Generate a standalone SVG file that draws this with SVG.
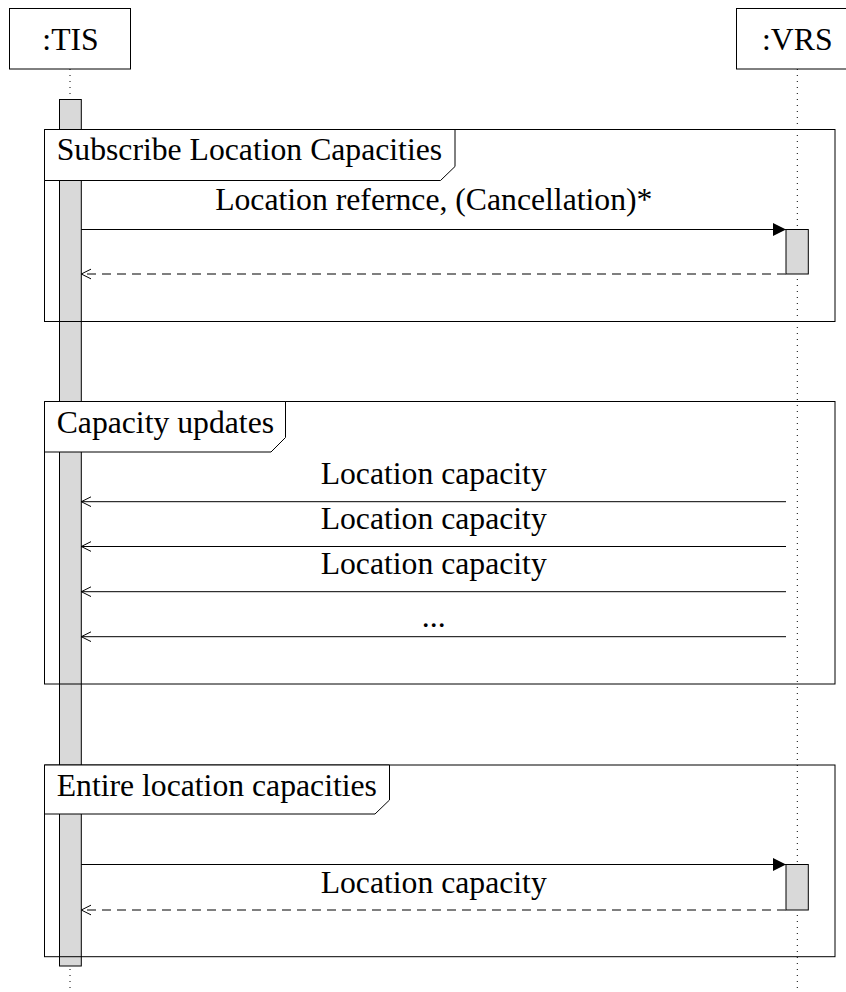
<svg xmlns="http://www.w3.org/2000/svg" width="846" height="992" viewBox="0 0 846 992">
<style>
.t{font-family:'Liberation Serif',serif;font-size:31.7px;fill:#000}
.box{fill:#fff;stroke:#000;stroke-width:1}
.life{stroke:#000;stroke-width:1;stroke-dasharray:1 5;fill:none}
.act{fill:#d9d9d9;stroke:#000;stroke-width:1}
.frame{fill:none;stroke:#000;stroke-width:1}
.flabel{fill:#fff;stroke:#000;stroke-width:1}
.msg{stroke:#000;stroke-width:1;fill:none}
.ret{stroke:#555;stroke-width:1.4;stroke-dasharray:9 6;fill:none}
</style>
<defs>
<marker id="filled" markerWidth="14" markerHeight="14" refX="13" refY="7" orient="auto" markerUnits="userSpaceOnUse">
<path d="M0,0.5 L13,7 L0,13.5 Z" fill="#000"/>
</marker>
<marker id="open" markerWidth="12" markerHeight="12" refX="10" refY="6" orient="auto" markerUnits="userSpaceOnUse">
<path d="M0,1 L10,6 L0,11" fill="none" stroke="#000" stroke-width="1"/>
</marker>
</defs>
<g id="lifelines">
<line class="life" x1="70" y1="69" x2="70" y2="992"/>
<line class="life" x1="797.3" y1="69" x2="797.3" y2="992"/>
</g>
<g id="TIS">
<rect class="box" x="9.5" y="8.5" width="121" height="60.5"/>
<text class="t" x="70.5" y="50" text-anchor="middle">:TIS</text>
</g>
<g id="VRS">
<rect class="box" x="736.5" y="8.5" width="121" height="60.5"/>
<text class="t" x="797.3" y="50" text-anchor="middle">:VRS</text>
</g>
<g id="TIS-activation">
<rect class="act" x="59.5" y="99.5" width="21.8" height="866.5"/>
</g>
<g id="frame-subscribe">
<rect class="frame" x="44.5" y="129.5" width="790.5" height="192"/>
<path class="flabel" d="M44.5,129.5 H455 V166.5 L440.5,180.5 H44.5 Z"/>
<text class="t" x="56.7" y="160">Subscribe Location Capacities</text>
</g>
<g id="frame-updates">
<rect class="frame" x="44.5" y="401.5" width="790.5" height="282.5"/>
<path class="flabel" d="M44.5,401.5 H285.5 V437.5 L271,452 H44.5 Z"/>
<text class="t" x="56.7" y="433">Capacity updates</text>
</g>
<g id="frame-entire">
<rect class="frame" x="44.5" y="765" width="790.5" height="191.7"/>
<path class="flabel" d="M44.5,765 H389.5 V800 L375,814 H44.5 Z"/>
<text class="t" x="56.7" y="796">Entire location capacities</text>
</g>
<g id="VRS-activations">
<rect class="act" x="786" y="229.5" width="22.3" height="44.5"/>
<rect class="act" x="786" y="864.5" width="22.3" height="45.5"/>
</g>
<g id="connectors">
<line class="msg" x1="81.3" y1="229.5" x2="786" y2="229.5" marker-end="url(#filled)"/>
<text class="t" x="433.8" y="210" text-anchor="middle">Location refernce, (Cancellation)*</text>
<line class="ret" x1="786" y1="274" x2="81.3" y2="274" marker-end="url(#open)"/>
<line class="msg" x1="786" y1="501.7" x2="81.3" y2="501.7" marker-end="url(#open)"/>
<text class="t" x="433.7" y="484" text-anchor="middle">Location capacity</text>
<line class="msg" x1="786" y1="546.5" x2="81.3" y2="546.5" marker-end="url(#open)"/>
<text class="t" x="433.7" y="529" text-anchor="middle">Location capacity</text>
<line class="msg" x1="786" y1="591.7" x2="81.3" y2="591.7" marker-end="url(#open)"/>
<text class="t" x="433.7" y="574" text-anchor="middle">Location capacity</text>
<line class="msg" x1="786" y1="636.7" x2="81.3" y2="636.7" marker-end="url(#open)"/>
<text class="t" x="433.7" y="627" text-anchor="middle">...</text>
<line class="msg" x1="81.3" y1="864.5" x2="786" y2="864.5" marker-end="url(#filled)"/>
<text class="t" x="433.7" y="893" text-anchor="middle">Location capacity</text>
<line class="ret" x1="786" y1="910" x2="81.3" y2="910" marker-end="url(#open)"/>
</g>
</svg>
